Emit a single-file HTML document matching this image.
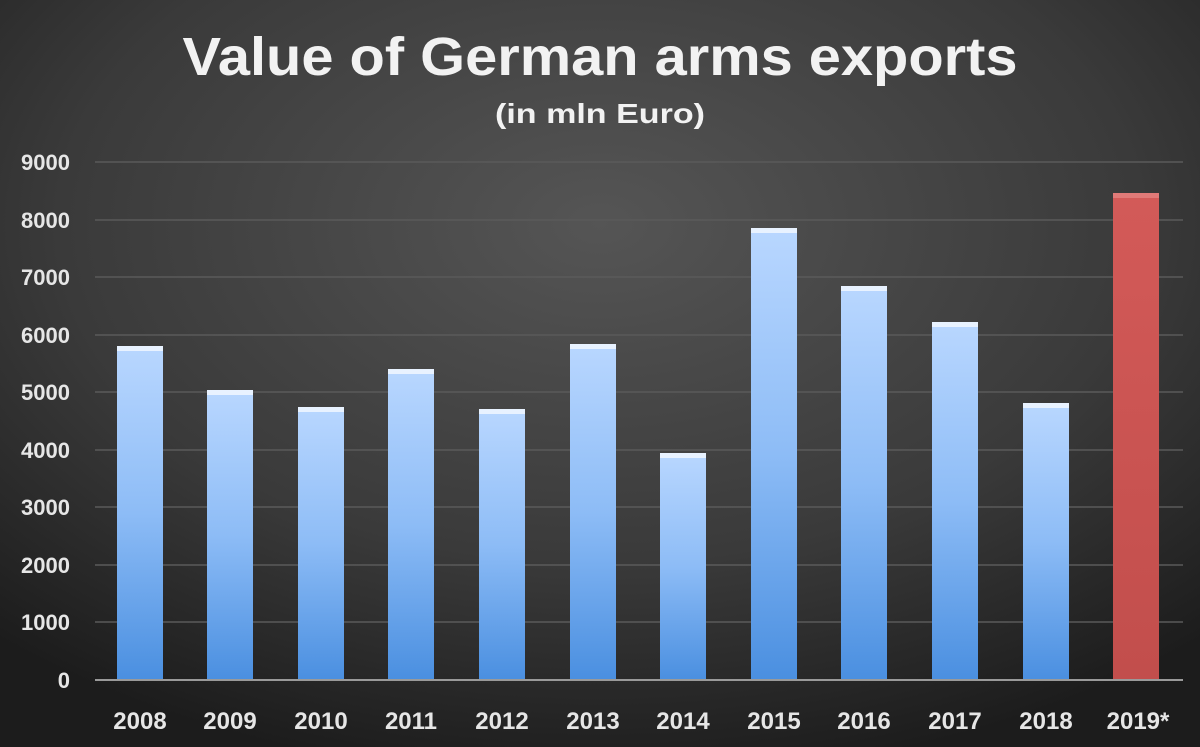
<!DOCTYPE html>
<html><head><style>html,body{margin:0;padding:0;background:#222}svg{display:block}</style></head>
<body>
<svg width="1200" height="747" viewBox="0 0 1200 747" xmlns="http://www.w3.org/2000/svg" font-family="Liberation Sans, sans-serif" font-weight="bold">
<defs>
<radialGradient id="bg" cx="0.5" cy="0.3" r="0.75">
<stop offset="0" stop-color="#555"/><stop offset="0.6" stop-color="#3a3a3a"/><stop offset="1" stop-color="#1c1c1c"/>
</radialGradient>
<linearGradient id="blue" x1="0" y1="0" x2="0" y2="1">
<stop offset="0" stop-color="#b9d7ff"/><stop offset="0.5" stop-color="#8dbcf6"/><stop offset="1" stop-color="#4a8fe0"/>
</linearGradient>
<linearGradient id="red" x1="0" y1="0" x2="0" y2="1">
<stop offset="0" stop-color="#d35a58"/><stop offset="1" stop-color="#c24e4c"/>
</linearGradient>
</defs>
<rect width="1200" height="747" fill="url(#bg)"/>
<text x="600" y="75" text-anchor="middle" font-size="54" fill="#f2f2f2" textLength="835" lengthAdjust="spacingAndGlyphs">Value of German arms exports</text>
<text x="600" y="123" text-anchor="middle" font-size="28" fill="#f2f2f2" textLength="210" lengthAdjust="spacingAndGlyphs">(in mln Euro)</text>
<g stroke="#5a5a5a" stroke-width="1.5">
<line x1="95" x2="1183" y1="162" y2="162"/><line x1="95" x2="1183" y1="220" y2="220"/><line x1="95" x2="1183" y1="277" y2="277"/><line x1="95" x2="1183" y1="335" y2="335"/><line x1="95" x2="1183" y1="392" y2="392"/><line x1="95" x2="1183" y1="450" y2="450"/><line x1="95" x2="1183" y1="507" y2="507"/><line x1="95" x2="1183" y1="565" y2="565"/><line x1="95" x2="1183" y1="622" y2="622"/>
</g>
<g font-size="22" fill="#e6e6e6" text-anchor="end">
<text x="70" y="170">9000</text><text x="70" y="228">8000</text><text x="70" y="285">7000</text><text x="70" y="343">6000</text><text x="70" y="400">5000</text><text x="70" y="458">4000</text><text x="70" y="515">3000</text><text x="70" y="573">2000</text><text x="70" y="630">1000</text><text x="70" y="688">0</text>
</g>
<g fill="url(#blue)">
<rect x="117" y="346" width="46" height="334"/>
<rect x="207" y="390" width="46" height="290"/>
<rect x="298" y="407" width="46" height="273"/>
<rect x="388" y="369" width="46" height="311"/>
<rect x="479" y="409" width="46" height="271"/>
<rect x="570" y="344" width="46" height="336"/>
<rect x="660" y="453" width="46" height="227"/>
<rect x="751" y="228" width="46" height="452"/>
<rect x="841" y="286" width="46" height="394"/>
<rect x="932" y="322" width="46" height="358"/>
<rect x="1023" y="403" width="46" height="277"/>
</g>
<g fill="#e8f2ff">
<rect x="117" y="346" width="46" height="5"/><rect x="207" y="390" width="46" height="5"/><rect x="298" y="407" width="46" height="5"/><rect x="388" y="369" width="46" height="5"/><rect x="479" y="409" width="46" height="5"/><rect x="570" y="344" width="46" height="5"/><rect x="660" y="453" width="46" height="5"/><rect x="751" y="228" width="46" height="5"/><rect x="841" y="286" width="46" height="5"/><rect x="932" y="322" width="46" height="5"/><rect x="1023" y="403" width="46" height="5"/>
</g>
<rect x="1113" y="193" width="46" height="487" fill="url(#red)"/>
<rect x="1113" y="193" width="46" height="5" fill="#e07a78"/>
<line x1="95" x2="1183" y1="680" y2="680" stroke="#9a9a9a" stroke-width="2"/>
<g font-size="24" fill="#e6e6e6" text-anchor="middle">
<text x="140" y="729">2008</text><text x="230" y="729">2009</text><text x="321" y="729">2010</text><text x="411" y="729">2011</text><text x="502" y="729">2012</text><text x="593" y="729">2013</text><text x="683" y="729">2014</text><text x="774" y="729">2015</text><text x="864" y="729">2016</text><text x="955" y="729">2017</text><text x="1046" y="729">2018</text><text x="1138" y="729">2019*</text>
</g>
</svg>
</body></html>
